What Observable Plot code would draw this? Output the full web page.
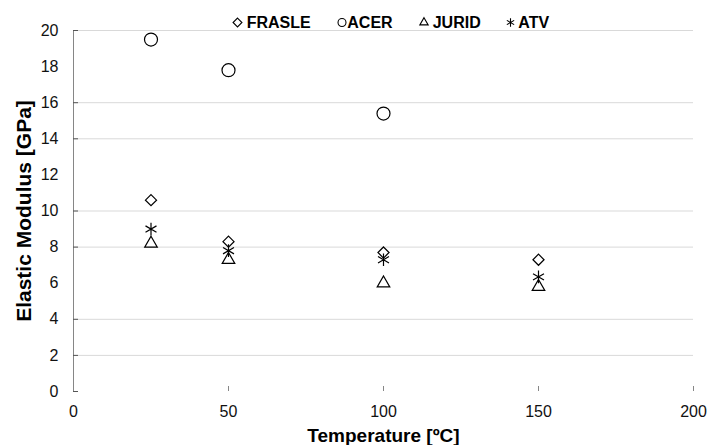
<!DOCTYPE html>
<html>
<head>
<meta charset="utf-8">
<script src="https://cdn.jsdelivr.net/npm/d3@7"></script>
<script src="https://cdn.jsdelivr.net/npm/@observablehq/plot@0.6"></script>
<style>
  html, body { margin: 0; padding: 0; background: #fff; }
  #wrap { position: relative; width: 708px; height: 445px; font-family: "Liberation Sans", Arial, sans-serif; }
  #legend { position: absolute; left: 0; top: 0; pointer-events: none; }
</style>
</head>
<body>
<div id="wrap">
  <div id="chart"></div>
  <svg id="legend" width="708" height="40"></svg>
</div>
<script>
// ---- data ----
const temperatureC = [25, 50, 100, 150];
const seriesNames = ["FRASLE", "ACER", "JURID", "ATV"];
const frasleGPa = [10.6, 8.3, 7.7, 7.3];
const acerGPa   = [19.5, 17.8, 15.4, null];
const juridGPa  = [8.2, 7.3, 6.0, 5.8];
const atvGPa    = [9.0, 7.8, 7.3, 6.35];
const xTickValues = [0, 50, 100, 150, 200];
const yTickValues = [0, 2, 4, 6, 8, 10, 12, 14, 16, 18, 20];
const yGridValues = [2, 4, 8, 10, 14, 16, 20];

const seriesValues = [frasleGPa, acerGPa, juridGPa, atvGPa];
const symbolNames = ["diamond2", "circle", "triangle2", "asterisk"];
const d3Symbols = [d3.symbolDiamond2, d3.symbolCircle, d3.symbolTriangle2, d3.symbolAsterisk];
const markerR = [5, 6.5, 6, 6];

const rows = [];
seriesValues.forEach((vals, i) => vals.forEach((v, j) => {
  if (v != null) rows.push({series: seriesNames[i], t: temperatureC[j], e: v});
}));

const W = 708, H = 445, mT = 30, mB = 54, mL = 73, mR = 15;
const frameW = W - mL - mR, frameH = H - mT - mB;

const chart = Plot.plot({
  width: W, height: H,
  marginTop: mT, marginBottom: mB, marginLeft: mL, marginRight: mR,
  style: {fontFamily: "'Liberation Sans', Arial, sans-serif", fontSize: "16px", color: "#111", background: "#fff"},
  x: {domain: [0, 200]},
  y: {domain: [0, 20]},
  marks: [
    Plot.ruleY(yGridValues, {stroke: "#d9d9d9", strokeWidth: 1}),
    Plot.ruleX([0], {stroke: "#868686", strokeWidth: 1}),
    Plot.tickX(xTickValues, {x: d => d, stroke: "#868686", insetTop: frameH - 5}),
    Plot.tickY([0, ...yGridValues], {y: d => d, stroke: "#555", insetRight: frameW - 5}),
    Plot.axisX({ticks: xTickValues, tickSize: 0, tickPadding: 14, tickFormat: d => String(d), label: null, fontSize: 16}),
    Plot.axisY({ticks: yTickValues, tickSize: 0, tickPadding: 15, tickFormat: d => String(d), label: null, fontSize: 16}),
    ...seriesNames.map((s, i) => Plot.dot(rows.filter(r => r.series === s), {
      x: "t", y: "e", symbol: symbolNames[i], r: markerR[i],
      stroke: "#000", strokeWidth: 1.2, fill: "none"
    })),
    Plot.text(["Temperature [ºC]"], {frameAnchor: "bottom", textAnchor: "middle", lineAnchor: "middle", dy: 44, fontWeight: "bold", fontSize: 19, fill: "#000"}),
    Plot.text(["Elastic Modulus [GPa]"], {frameAnchor: "left", textAnchor: "middle", lineAnchor: "middle", rotate: -90, dx: -49, fontWeight: "bold", fontSize: 21, fill: "#000"})
  ]
});
document.getElementById("chart").append(chart);

// ---- legend ----
const legendSymbolX = [237.5, 342, 424, 510.5];
const legendTextX = [246.7, 347.3, 432.7, 518.3];
const lg = d3.select("#legend");
seriesNames.forEach((s, i) => {
  lg.append("path")
    .attr("d", d3.symbol(d3Symbols[i], 50)())
    .attr("transform", `translate(${legendSymbolX[i]},22.5)`)
    .attr("fill", "none").attr("stroke", "#000").attr("stroke-width", 1.1);
  lg.append("text")
    .attr("x", legendTextX[i]).attr("y", 28.3)
    .attr("font-family", "'Liberation Sans', Arial, sans-serif")
    .attr("font-weight", "bold").attr("font-size", 16).attr("fill", "#000")
    .text(s);
});
</script>
</body>
</html>
